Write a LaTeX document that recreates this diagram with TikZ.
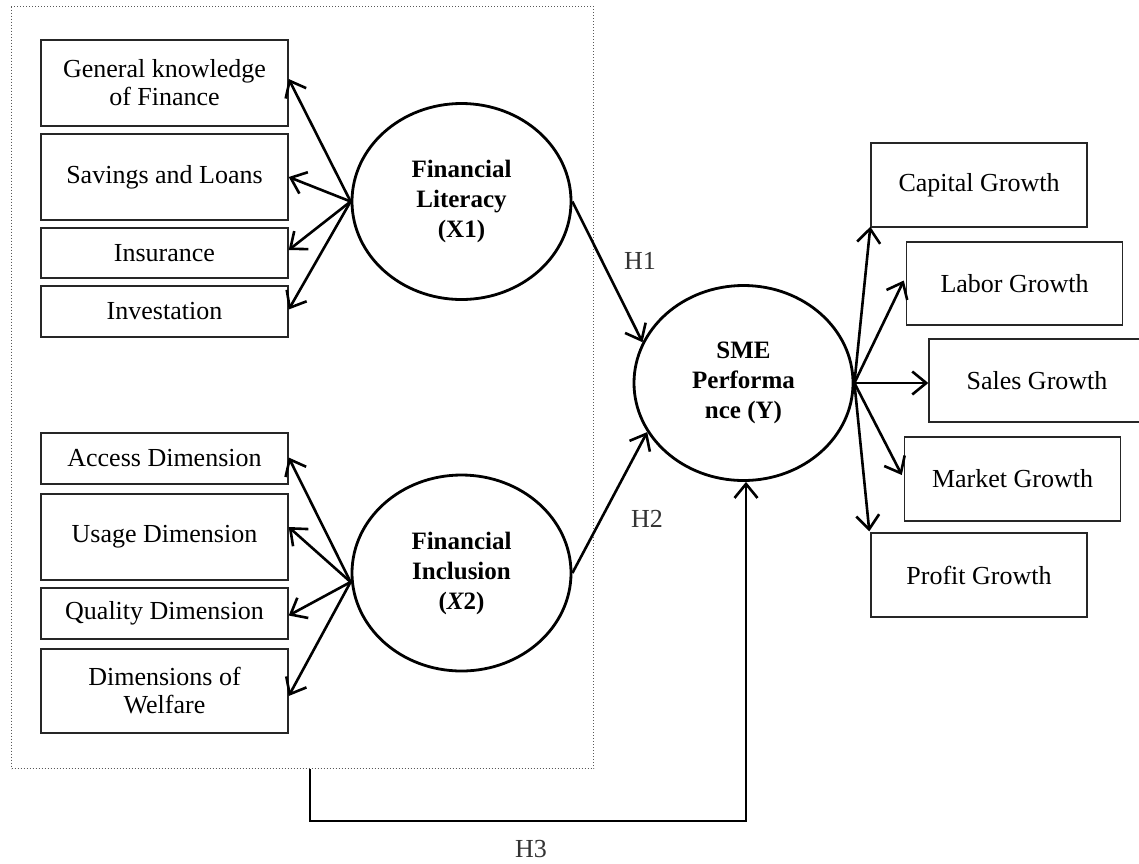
\documentclass[tikz,border=0pt]{standalone}
\usepackage{fontspec}
\setmainfont{Liberation Serif}
\usetikzlibrary{shapes.geometric,arrows.meta}
\begin{document}
\begin{tikzpicture}[x=1pt,y=-1pt,
  box/.style={draw=black!85, line width=1.4pt, rectangle, inner sep=0pt, align=center, font=\fontsize{26}{28}\selectfont, text=black},
  lbox/.style={box, minimum width=247pt},
  rbox/.style={box, minimum width=216pt, minimum height=84pt},
  lat/.style={draw, ellipse, line width=2.8pt, minimum width=219pt, minimum height=196pt, inner sep=0pt, align=center, font=\fontsize{25}{30}\selectfont\bfseries},
  arr/.style={line width=2.6pt, -{Straight Barb[length=14pt,width=23pt]}},
  hlab/.style={font=\fontsize{26}{28}\selectfont, text=black!80},
  frame/.style={draw=black!65, dotted, line width=1pt, rectangle, inner sep=0pt}
]
\useasboundingbox (0,0) rectangle (1139,863);
\clip (0,0) rectangle (1139,863);
\fill[white] (0,0) rectangle (1139,863);

% dotted frame
\node[frame, minimum width=582pt, minimum height=762pt, anchor=north west] (frm) at (11,6) {};

% left boxes
\node[lbox, minimum height=86pt] (gen) at (164.5,83) {General knowledge\\of Finance};
\node[lbox, minimum height=86pt] (sav) at (164.5,177) {Savings and Loans};
\node[lbox, minimum height=50pt] (ins) at (164.5,253) {Insurance};
\node[lbox, minimum height=51pt] (inv) at (164.5,311.5) {Investation};
\node[lbox, minimum height=51pt] (acc) at (164.5,458.5) {Access Dimension};
\node[lbox, minimum height=86pt] (usg) at (164.5,537) {Usage Dimension};
\node[lbox, minimum height=51pt] (qua) at (164.5,613.5) {Quality Dimension};
\node[lbox, minimum height=84pt] (wel) at (164.5,691) {Dimensions of\\Welfare};

% latent variables
\node[lat] (x1) at (461.5,201.5) {Financial\\Literacy\\(X1)};
\node[lat] (x2) at (461.5,573) {Financial\\Inclusion\\({\itshape X}2)};
\node[lat, minimum height=195pt] (sme) at (743.5,383) {SME\\Performa\\nce (Y)};

% right boxes
\node[rbox] (cap) at (979,185) {Capital Growth};
\node[rbox, minimum height=83pt] (lab) at (1014.5,283.5) {Labor Growth};
\node[rbox, minimum height=83pt] (sal) at (1037,380.5) {Sales Growth};
\node[rbox] (mkt) at (1012.5,479) {Market Growth};
\node[rbox] (prof) at (979,575) {Profit Growth};

% arrows X1
\draw[arr] (x1.west) -- ([yshift=4pt]gen.east);
\draw[arr] (x1.west) -- (sav.east);
\draw[arr] (x1.west) -- ([yshift=3pt]ins.east);
\draw[arr] (x1.west) -- ([yshift=2pt]inv.east);

% arrows X2
\coordinate (x2w) at ([yshift=-9pt]x2.west);
\draw[arr] (x2w) -- ([yshift=1pt]acc.east);
\draw[arr] (x2w) -- ([yshift=10pt]usg.east);
\draw[arr] (x2w) -- ([yshift=-2pt]qua.east);
\draw[arr] (x2w) -- ([yshift=-5pt]wel.east);

% structural paths
\draw[arr] (x1.east) -- (sme.158);
\draw[arr] (x2.east) -- (sme.207);
\draw[arr] ([xshift=299pt]frm.south west) -- ++(0,52) -| ([xshift=2.5pt]sme.south);

% arrows Y
\draw[arr] (sme.east) -- ([yshift=1pt]cap.south west);
\draw[arr] (sme.east) -- ([xshift=-2pt,yshift=3pt]lab.west);
\draw[arr] (sme.east) -- ([yshift=-2.5pt]sal.west);
\draw[arr] (sme.east) -- ([xshift=-2pt,yshift=4pt]mkt.west);
\draw[arr] (sme.east) -- ([xshift=-1pt,yshift=1pt]prof.north west);

% labels
\node[hlab] (h1) at (640,261) {H1};
\node[hlab] (h2) at (647,519) {H2};
\node[hlab] (h3) at (531,849) {H3};
\end{tikzpicture}
\end{document}
